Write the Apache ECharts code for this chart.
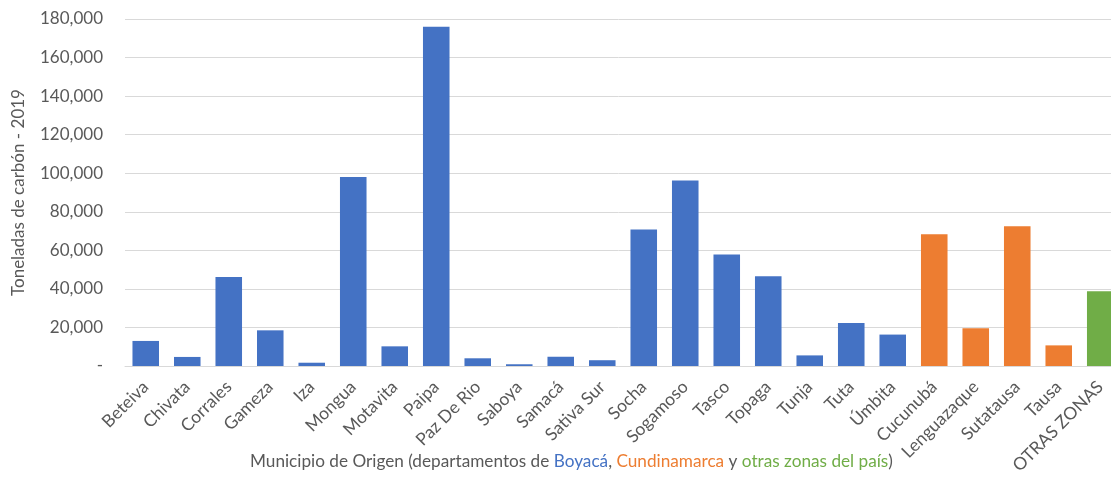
<!DOCTYPE html>
<html>
<head>
<meta charset="utf-8">
<script src="https://cdn.jsdelivr.net/npm/echarts@6/dist/echarts.min.js"></script>
<style>
html,body{margin:0;padding:0;background:#fff;}
#chart{width:1111px;height:478px;}
</style>
</head>
<body>
<div id="chart"></div>
<script>
const categories = ['Beteiva','Chivata','Corrales','Gameza','Iza','Mongua','Motavita','Paipa','Paz De Rio','Saboya','Samacá','Sativa Sur','Socha','Sogamoso','Tasco','Topaga','Tunja','Tuta','Úmbita','Cucunubá','Lenguazaque','Sutatausa','Tausa','OTRAS ZONAS'];
const values = [13000, 4700, 46200, 18500, 1700, 98000, 10200, 176000, 4000, 900, 4800, 3000, 70800, 96200, 57800, 46500, 5500, 22300, 16300, 68300, 19600, 72500, 10700, 38800];
const regions = ['Boyacá','Boyacá','Boyacá','Boyacá','Boyacá','Boyacá','Boyacá','Boyacá','Boyacá','Boyacá','Boyacá','Boyacá','Boyacá','Boyacá','Boyacá','Boyacá','Boyacá','Boyacá','Boyacá','Cundinamarca','Cundinamarca','Cundinamarca','Cundinamarca','Otras'];
const regionColors = {'Boyacá':'#4472C4','Cundinamarca':'#ED7D31','Otras':'#70AD47'};
const yTicks = [0, 20000, 40000, 60000, 80000, 100000, 120000, 140000, 160000, 180000];

const FONT = 'Lato';
const chart = echarts.init(document.getElementById('chart'));
const rs = c => ({color: c, fontSize: 17.2, fontFamily: FONT, fontWeight: 'normal'});
chart.setOption({
  animation: false,
  textStyle: {fontFamily: FONT},
  grid: {left: 125, top: 19, width: 996, height: 347, containLabel: false, outerBoundsMode: 'none'},
  title: {
    left: 245, top: 448,
    text: '{g|Municipio de Origen (departamentos de }{b|Boyacá}{g|, }{o|Cundinamarca}{g| y }{v|otras zonas del país}{g|)}',
    textStyle: {
      fontWeight: 'normal',
      rich: {g: rs('#595959'), b: rs('#4472C4'), o: rs('#ED7D31'), v: rs('#70AD47')}
    }
  },
  xAxis: {
    type: 'category',
    data: categories,
    axisLine: {show: true, lineStyle: {color: '#D9D9D9', width: 1}},
    axisTick: {show: false},
    axisLabel: {rotate: 45, color: '#595959', fontSize: 17.5, fontFamily: FONT, margin: 18, interval: 0, hideOverlap: false}
  },
  yAxis: {
    type: 'value',
    min: yTicks[0], max: yTicks[yTicks.length - 1], interval: yTicks[1] - yTicks[0],
    name: 'Toneladas de carbón - 2019',
    nameLocation: 'middle',
    nameGap: 98,
    nameTextStyle: {color: '#595959', fontSize: 17, fontFamily: FONT},
    axisLine: {show: false},
    axisTick: {show: false},
    splitLine: {lineStyle: {color: '#D9D9D9', width: 1}},
    axisLabel: {
      color: '#595959', fontSize: 17, fontFamily: FONT, margin: 22,
      formatter: v => v === 0 ? '-' : v.toLocaleString('en-US')
    }
  },
  series: [{
    type: 'bar',
    barCategoryGap: '36%',
    data: values.map((v, i) => ({value: v, itemStyle: {color: regionColors[regions[i]]}}))
  }]
});
</script>
</body>
</html>
